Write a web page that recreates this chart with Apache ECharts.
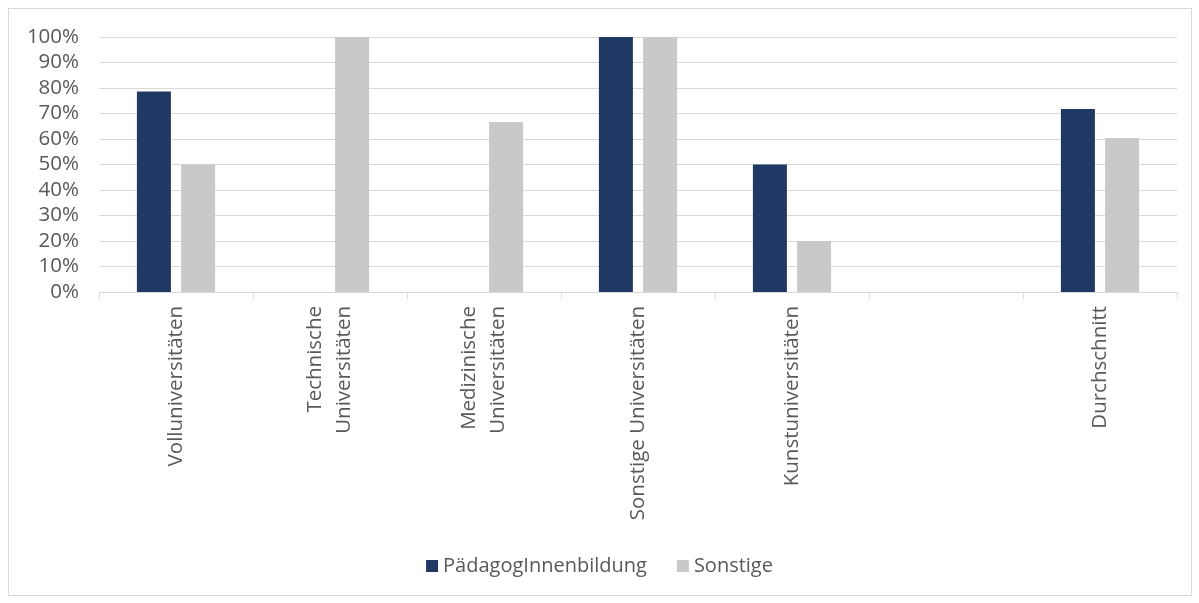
<!DOCTYPE html>
<html><head><meta charset="utf-8">
<script src="https://cdn.jsdelivr.net/npm/echarts@6/dist/echarts.min.js"></script>
<style>html,body{margin:0;padding:0;background:#fff;}#frame{position:absolute;left:8px;top:8px;width:1182px;height:586px;border:1px solid #d9d9d9;}#c{position:absolute;left:0;top:0;width:1199px;height:603px;}</style>
</head><body><div id="frame"></div><div id="c"></div>
<script>
const categories = ['Volluniversitäten', 'Technische\nUniversitäten', 'Medizinische\nUniversitäten', 'Sonstige Universitäten', 'Kunstuniversitäten', '', 'Durchschnitt'];
const paedagog = [78.6, null, null, 100, 50, null, 71.8];
const sonstige = [50, 100, 66.7, 100, 20, null, 60.4];
const seriesNames = ['PädagogInnenbildung', 'Sonstige'];
const yTicks = [0, 10, 20, 30, 40, 50, 60, 70, 80, 90, 100];
const font = 'Open Sans';
const chart = echarts.init(document.getElementById('c'));
chart.setOption({
  animation: false,
  textStyle: {fontFamily: font},
  grid: {left: 99, right: 22, top: 37, bottom: 311},
  legend: {
    data: seriesNames, bottom: 22, left: 'center', itemWidth: 12, itemHeight: 12, itemGap: 30,
    icon: 'rect',
    textStyle: {color: '#595959', fontSize: 20, fontFamily: font}
  },
  xAxis: {
    type: 'category', data: categories,
    axisLine: {lineStyle: {color: '#d9d9d9'}},
    axisTick: {show: true, interval: 0, length: 7, lineStyle: {color: '#d9d9d9'}},
    axisLabel: {interval: 0, rotate: 90, margin: 14, color: '#595959', fontSize: 20.5, fontFamily: font, lineHeight: 29}
  },
  yAxis: {
    type: 'value', min: yTicks[0], max: yTicks[yTicks.length - 1], interval: 10,
    axisLine: {show: false}, axisTick: {show: false},
    splitLine: {lineStyle: {color: '#d9d9d9'}},
    axisLabel: {formatter: '{value}%', color: '#595959', fontSize: 20.5, fontFamily: font, margin: 20}
  },
  series: [
    {name: seriesNames[0], type: 'bar', data: paedagog, barWidth: 34, barGap: '30%', itemStyle: {color: '#203864'}},
    {name: seriesNames[1], type: 'bar', data: sonstige, barWidth: 34, itemStyle: {color: '#c9c9c9'}}
  ]
});
</script></body></html>
